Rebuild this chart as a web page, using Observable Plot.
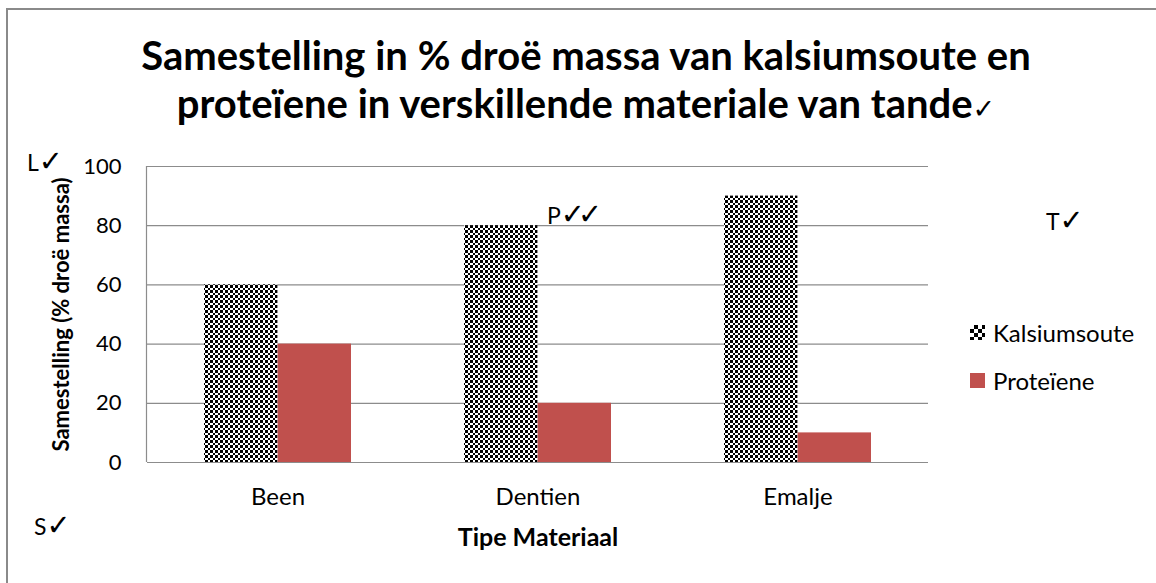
<!DOCTYPE html>
<html><head><meta charset="utf-8">
<script src="https://cdn.jsdelivr.net/npm/d3@7"></script>
<script src="https://cdn.jsdelivr.net/npm/@observablehq/plot@0.6"></script>
<style>
body{margin:0;background:#fff;}
#wrap{position:relative;width:1156px;height:583px;overflow:hidden;font-family:Lato,"DejaVu Sans",sans-serif;color:#000;}
#border{position:absolute;left:6px;top:8px;width:1200px;height:700px;border:2px solid #8a8a8a;box-sizing:border-box;}
#chart{position:absolute;left:0;top:0;}
#chart [aria-label^="x-axis"] text{font-size:24px;}
#title{position:absolute;left:0;width:1172px;top:31px;text-align:center;font-weight:bold;font-size:40px;line-height:48px;white-space:nowrap;}
.ann{position:absolute;font-size:23px;line-height:24px;white-space:nowrap;}
.chk{font-family:"DejaVu Sans",sans-serif;font-size:1.25em;line-height:0;font-weight:normal;}
.chk2{letter-spacing:-7px;}
#legend{position:absolute;left:970px;top:320px;font-size:24px;}
.li{display:flex;align-items:center;height:24px;margin-bottom:24px;}
.sw{width:15px;height:15px;margin-right:8px;}
</style></head><body>
<div id="wrap">
  <div id="border"></div>
  <div id="chart"></div>
  <div id="title"></div>
  <div id="legend"></div>
</div>
<script>
const titleLines = ["Samestelling in % droë massa van kalsiumsoute en", "proteïene in verskillende materiale van tande"];
const materials = ["Been", "Dentien", "Emalje"];
const seriesNames = ["Kalsiumsoute", "Proteïene"];
const kalsiumsoute = [60, 80, 90];
const proteiene = [40, 20, 10];
const yTicks = [0, 20, 40, 60, 80, 100];
const yLabel = "Samestelling (% droë massa)";
const xLabel = "Tipe Materiaal";
const seriesColors = ["url(#checker)", "#C0504D"];
const marks = [
  {text: "L", checks: 1, left: 27, top: 150},
  {text: "P", checks: 2, left: 547, top: 203},
  {text: "T", checks: 1, left: 1046, top: 209},
  {text: "S", checks: 1, left: 34, top: 514}
];

const W = 1156, H = 583, ML = 147, MR = 228, MT = 166, MB = 121;
const padInner = 0.4346;
const step = (W - ML - MR) / materials.length;
const half = step * (1 - padInner) / 2;

const data = materials.flatMap((m, i) => [
  {material: m, series: seriesNames[0], value: kalsiumsoute[i]},
  {material: m, series: seriesNames[1], value: proteiene[i]}
]);

const NS = "http://www.w3.org/2000/svg";
const defsMark = () => {
  const d = document.createElementNS(NS, "defs");
  d.innerHTML = `<pattern id="checker" patternUnits="userSpaceOnUse" width="10" height="10" shape-rendering="crispEdges">
    <rect width="10" height="10" fill="#fff"/>
    <rect x="0" y="0" width="3" height="3" fill="#000"/>
    <rect x="5" y="0" width="3" height="3" fill="#000"/>
    <rect x="3" y="3" width="2" height="2" fill="#000"/>
    <rect x="8" y="3" width="2" height="2" fill="#000"/>
    <rect x="0" y="5" width="3" height="3" fill="#000"/>
    <rect x="5" y="5" width="3" height="3" fill="#000"/>
    <rect x="3" y="8" width="2" height="2" fill="#000"/>
    <rect x="8" y="8" width="2" height="2" fill="#000"/></pattern>`;
  return d;
};
const leftLine = (index, scales, values, dims) => {
  const l = document.createElementNS(NS, "line");
  const x = dims.marginLeft - 0.5;
  l.setAttribute("x1", x); l.setAttribute("x2", x);
  l.setAttribute("y1", scales.y(yTicks[yTicks.length - 1]));
  l.setAttribute("y2", scales.y(yTicks[0]));
  l.setAttribute("stroke", "#8c8c8c");
  l.setAttribute("stroke-width", "1.2");
  return l;
};

const chart = Plot.plot({
  width: W, height: H,
  marginLeft: ML, marginRight: MR, marginTop: MT, marginBottom: MB,
  style: {fontFamily: "Lato, sans-serif", fontSize: "22px", color: "#000", background: "transparent", overflow: "visible"},
  x: {domain: materials, paddingInner: padInner, paddingOuter: padInner / 2, align: 0.5, label: null, tickSize: 0, tickPadding: 25},
  y: {domain: [0, 100], ticks: yTicks, label: null, tickSize: 0, tickPadding: 26},
  color: {domain: seriesNames, range: seriesColors},
  marks: [
    defsMark,
    Plot.ruleY(yTicks, {stroke: "#8c8c8c", strokeWidth: 1.2}),
    Plot.barY(data.filter(d => d.series === seriesNames[0]), {x: "material", y: "value", fill: "series", insetRight: half}),
    Plot.barY(data.filter(d => d.series === seriesNames[1]), {x: "material", y: "value", fill: "series", insetLeft: half}),
    leftLine,
    Plot.text([yLabel], {frameAnchor: "left", dx: -86, rotate: -90, textAnchor: "middle", fontWeight: "bold", fontSize: 22}),
    Plot.text([xLabel], {frameAnchor: "bottom", dy: 83, fontWeight: "bold", fontSize: 25})
  ]
});
document.getElementById("chart").appendChild(chart);

document.getElementById("title").innerHTML = titleLines.map((t, i) =>
  i === titleLines.length - 1 ? `<div>${t}<span class="chk" style="font-size:27px">✓</span></div>` : `<div>${t}</div>`).join("");

const wrap = document.getElementById("wrap");
for (const m of marks) {
  const s = document.createElement("div");
  s.className = "ann";
  s.style.left = m.left + "px"; s.style.top = m.top + "px";
  s.innerHTML = m.text + `<span class="chk${m.checks > 1 ? " chk2" : ""}">${"✓".repeat(m.checks)}</span>`;
  wrap.appendChild(s);
}

const legend = document.getElementById("legend");
seriesNames.forEach((n, i) => {
  const row = document.createElement("div");
  row.className = "li";
  const sw = document.createElement("div");
  sw.className = "sw";
  if (i === 0) sw.style.background = "repeating-conic-gradient(#000 0 25%, #fff 0 50%) 0 0/8px 8px";
  else sw.style.background = seriesColors[i];
  row.appendChild(sw);
  const t = document.createElement("span");
  t.textContent = n;
  row.appendChild(t);
  legend.appendChild(row);
});
</script>
</body></html>
